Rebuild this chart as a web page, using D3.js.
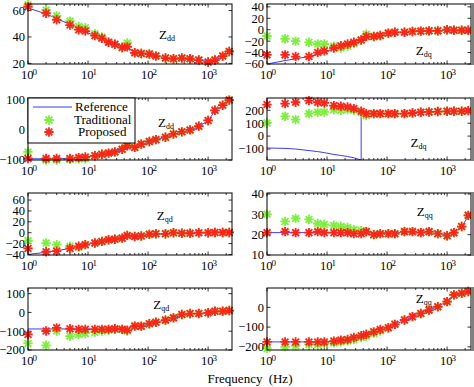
<!DOCTYPE html>
<html>
<head>
<meta charset="utf-8">
<script src="https://cdn.jsdelivr.net/npm/d3@7"></script>
<style>
    body { margin: 0; background: #fff; }
    svg { display: block; }
    svg text { font-family: "Liberation Serif", "DejaVu Serif", serif; }
</style>
</head>
<body>
<div id="chart"></div>
<script>
// frequency points (Hz) shared by all panels
var freqs = [1, 2, 3, 5, 7, 9, 13, 17, 22, 28, 37, 45, 60, 77, 105, 135, 195, 265, 365, 500, 700, 1000, 1300, 1750, 2250];
var xTicks = [1, 10, 100, 1000];

// Zdd magnitude
var ddMagRef  = [62, 57.5, 54, 49.5, 46, 44, 41, 39, 36.5, 34.5, 32.5, 31.5, 29, 27.5, 26.5, 25.5, 24.5, 23.5, 23.5, 23, 22.5, 21.5, 22.5, 25, 29];
var ddMagTrad = [64.5, 60.5, 56, 52, 48, 47, 42.5, 40, 36, 34.5, 32, 35.5, 28, 27.5, 27, 25.5, 24, 23.5, 24, 23.5, 22.5, 21, 22.5, 25.5, 29];
var ddMagProp = [63, 58, 53, 49, 45.5, 44.5, 41, 39, 36, 34.5, 32, 32.5, 28, 27.5, 27, 25.5, 24, 23.5, 24, 23.5, 22.5, 21, 22.5, 25.5, 29];

// Zdq magnitude
var dqMagRef  = [-60, -54, -51, -47, -43, -39, -33, -29, -25, -21, -16, -13, -11, -9, -6, -4.5, -4, -3, -2.5, -2, -1.5, -1, -1, -1, -1];
var dqMagTrad = [-11, -16, -20, -22, -25, -25, -29, -32, -29, -24, -18, -8, -12, -10, -6, -4.5, -4.5, -3, -2.5, -2, -2, 0, -1, -1, -1];
var dqMagProp = [-44, -44, -47, -47, -40, -37, -32, -28, -25, -22, -18, -12, -12, -10, -6, -4.5, -4.5, -3, -2.5, -2, -2, 0, -1, -1, -1];

// Zdd phase
var ddPhRef  = [-96, -96, -96, -95, -93, -91, -87, -82, -78, -73, -65, -57, -55, -48, -39, -32, -24, -14, -7, 0, 12, 31, 64, 82, 100];
var ddPhTrad = [-73, -100, -100, -98, -97, -96, -86, -81, -77, -73, -64, -49, -58, -47, -38, -32, -24, -13, -6, 0.5, 13, 32, 66, 83, 100];
var ddPhProp = [-95, -95, -95, -95, -92, -90, -86, -81, -77, -73, -64, -53, -58, -47, -38, -32, -24, -13, -6, 0.5, 13, 32, 66, 83, 100];

// Zdq phase (reference wraps from -180 to 180 near 37 Hz)
var dqPhRefFreq = [1, 2, 3, 5, 7, 9, 13, 17, 22, 28, 37, 37, 45, 60, 77, 105, 135, 195, 265, 365, 500, 700, 1000, 1300, 1750, 2250];
var dqPhRef  = [-92, -95, -100, -112, -120, -128, -142, -150, -158, -168, -185, 185, 172, 174, 174, 174, 174, 174, 179, 185, 187, 190, 192, 192, 192, 197];
var dqPhTrad = [102, 153, 128, 174, 185, 187, 205, 200, 205, 200, 185, 159, 174, 174, 174, 174, 174, 179, 185, 187, 190, 192, 192, 192, 197];
var dqPhProp = [244, 252, 262, 275, 262, 257, 236, 231, 226, 213, 192, 174, 174, 174, 174, 174, 174, 179, 185, 187, 190, 192, 192, 192, 197];

// Zqd magnitude
var qdMagRef  = [-40, -36, -33, -29, -25, -22, -19, -16, -13, -12, -10, -6, -7, -6, -3, -2, -2, -0.5, -1, -1, 0, 0, 0.5, 0.5, 0.5];
var qdMagTrad = [-15, -19, -22, -25, -27, -22, -19, -16, -13, -12, -10, -5, -7, -6, -3, -2, -2, 0, -1, -1, 0, 0, 0.5, 0.5, 0.5];
var qdMagProp = [-29, -35, -34, -29, -25, -22, -19, -16, -13, -12, -10, -5, -7, -6, -3, -2, -2, 0, -1, -1, 0, 0, 0.5, 0.5, 0.5];

// Zqq magnitude
var qqMagRef  = [21, 21, 21, 21, 21, 21, 21, 21, 21, 21, 21, 21, 21, 21, 21, 21, 21, 21, 21, 21, 20.5, 20, 21, 24, 29];
var qqMagTrad = [30, 26.5, 28, 27.5, 25.5, 25, 24.5, 24, 23.5, 22.5, 22, 21.5, 20, 20.5, 20.5, 20.5, 21.5, 21.5, 21, 21.5, 20.5, 19.5, 21, 24, 29.5];
var qqMagProp = [21, 21.5, 21, 21, 21.5, 21, 21, 21, 21, 20.5, 20.5, 21.5, 20, 20.5, 20.5, 20.5, 21.5, 21.5, 21, 21.5, 20.5, 19.5, 21, 24, 29.5];

// Zqd phase
var qdPhRef  = [-88, -88, -88, -88, -88, -88, -88, -88, -88, -88, -90, -93, -75, -72, -61, -52, -41, -29, -14, -7, -5, -2, 4, 7, 10];
var qdPhTrad = [-165, -175, -99, -126, -117, -112, -105, -99, -94, -90, -90, -99, -73, -73, -60, -52, -41, -29, -11, -6, -6, -2, 6, 6, 10];
var qdPhProp = [-117, -99, -82, -87, -90, -90, -90, -90, -90, -87, -90, -94, -73, -73, -60, -52, -41, -29, -11, -6, -6, -2, 6, 6, 10];

// Zqq phase
var qqPhRef  = [-175, -175, -175, -175, -175, -175, -172, -168, -162, -154, -145, -136, -125, -114, -102, -87, -66, -48, -31, -14, 4, 30, 60, 72, 80];
var qqPhTrad = [-208, -200, -195, -188, -188, -183, -180, -175, -170, -163, -153, -146, -132, -120, -103, -86, -64, -47, -31, -14, 3, 29, 63, 71, 80];
var qqPhProp = [-175, -175, -175, -175, -175, -175, -171, -166, -163, -153, -144, -136, -124, -112, -103, -86, -64, -47, -31, -14, 3, 29, 63, 71, 80];

var legendNames = ["Reference", "Traditional", "Proposed"];

(function () {
    var width = 474,
        height = 387;

    var blue = "#3b3bf5",
        green = "#7cf03a",
        red = "#ff2418";
    var serif = "'Liberation Serif', 'DejaVu Serif', serif";

    var cols = [[28, 232], [267, 471]];
    var rows = [[4, 64], [98, 160], [193, 255], [288, 350]];

    var panels = [
        { r: 0, c: 0, sub: "dd", dom: [19.5, 65], ticks: [20, 40, 60], refF: freqs, ref: ddMagRef, trad: ddMagTrad, prop: ddMagProp, lab: [0.642, 0.585] },
        { r: 0, c: 1, sub: "dq", dom: [-60, 45], ticks: [-60, -40, -20, 0, 20, 40], refF: freqs, ref: dqMagRef, trad: dqMagTrad, prop: dqMagProp, lab: [0.729, 0.85] },
        { r: 1, c: 0, sub: "dd", dom: [-100, 107], ticks: [-100, 0, 100], refF: freqs, ref: ddPhRef, trad: ddPhTrad, prop: ddPhProp, lab: [0.637, 0.463] },
        { r: 1, c: 1, sub: "dq", dom: [-185, 295], ticks: [-100, 0, 100, 200], refF: dqPhRefFreq, ref: dqPhRef, trad: dqPhTrad, prop: dqPhProp, lab: [0.704, 0.785] },
        { r: 2, c: 0, sub: "qd", dom: [-41, 73], ticks: [-40, -20, 0, 20, 40, 60], refF: freqs, ref: qdMagRef, trad: qdMagTrad, prop: qdMagProp, lab: [0.631, 0.435] },
        { r: 2, c: 1, sub: "qq", dom: [10, 40.5], ticks: [10, 20, 30, 40], refF: freqs, ref: qqMagRef, trad: qqMagTrad, prop: qqMagProp, lab: [0.734, 0.366] },
        { r: 3, c: 0, sub: "qd", dom: [-200, 130], ticks: [-200, -100, 0, 100], refF: freqs, ref: qdPhRef, trad: qdPhTrad, prop: qdPhProp, lab: [0.614, 0.344] },
        { r: 3, c: 1, sub: "qq", dom: [-216, 98], ticks: [-200, -100, 0], refF: freqs, ref: qqPhRef, trad: qqPhTrad, prop: qqPhProp, lab: [0.729, 0.237] }
    ];

    var svg = d3.select("#chart").append("svg")
        .attr("width", width)
        .attr("height", height);

    svg.append("rect").attr("width", width).attr("height", height).attr("fill", "#fff");

    // matlab style '*' marker
    function star(g, cx, cy, s, color) {
        var k = s * 0.72;
        g.append("path")
            .attr("d", "M" + (cx - s) + "," + cy + "H" + (cx + s) +
                "M" + cx + "," + (cy - s) + "V" + (cy + s) +
                "M" + (cx - k) + "," + (cy - k) + "L" + (cx + k) + "," + (cy + k) +
                "M" + (cx - k) + "," + (cy + k) + "L" + (cx + k) + "," + (cy - k))
            .attr("stroke", color)
            .attr("stroke-width", 1.8)
            .attr("fill", "none");
    }

    var minor = [];
    [1, 10, 100, 1000].forEach(function (d) {
        for (var m = 2; m <= 9; m++) {
            if (d * m <= 2500) minor.push(d * m);
        }
    });

    panels.forEach(function (p, i) {
        var x0 = cols[p.c][0], x1 = cols[p.c][1];
        var y0 = rows[p.r][0], y1 = rows[p.r][1];

        var x = d3.scaleLog().domain([1, 2500]).range([x0, x1]);
        var y = d3.scaleLinear().domain(p.dom).range([y1, y0]);

        var g = svg.append("g").attr("class", "panel");

        g.append("clipPath").attr("id", "clip" + i)
            .append("rect")
            .attr("x", x0).attr("y", y0)
            .attr("width", x1 - x0).attr("height", y1 - y0);

        // ticks (inside, both sides)
        var tk = g.append("g").attr("stroke", "#000").attr("stroke-width", 0.8);
        xTicks.forEach(function (t) {
            tk.append("line").attr("x1", x(t)).attr("x2", x(t)).attr("y1", y1).attr("y2", y1 - 3.5);
            tk.append("line").attr("x1", x(t)).attr("x2", x(t)).attr("y1", y0).attr("y2", y0 + 3.5);
        });
        minor.forEach(function (t) {
            tk.append("line").attr("x1", x(t)).attr("x2", x(t)).attr("y1", y1).attr("y2", y1 - 2);
            tk.append("line").attr("x1", x(t)).attr("x2", x(t)).attr("y1", y0).attr("y2", y0 + 2);
        });
        p.ticks.forEach(function (t) {
            tk.append("line").attr("x1", x0).attr("x2", x0 + 3.5).attr("y1", y(t)).attr("y2", y(t));
            tk.append("line").attr("x1", x1).attr("x2", x1 - 3.5).attr("y1", y(t)).attr("y2", y(t));
        });

        // reference line
        var line = d3.line()
            .x(function (d) { return x(d[0]); })
            .y(function (d) { return y(d[1]); });

        g.append("path")
            .datum(p.refF.map(function (f, j) { return [f, p.ref[j]]; }))
            .attr("clip-path", "url(#clip" + i + ")")
            .attr("d", line)
            .attr("fill", "none")
            .attr("stroke", blue)
            .attr("stroke-width", 1);

        freqs.forEach(function (f, j) {
            star(g, x(f), y(p.trad[j]), 4.7, green);
        });
        freqs.forEach(function (f, j) {
            star(g, x(f), y(p.prop[j]), 4.7, red);
        });

        // axes box
        g.append("rect")
            .attr("x", x0).attr("y", y0)
            .attr("width", x1 - x0).attr("height", y1 - y0)
            .attr("fill", "none")
            .attr("stroke", "#000")
            .attr("stroke-width", 1);

        if (p.c === 1) {
            g.append("rect")
                .attr("x", x1).attr("y", y0 - 1)
                .attr("width", 3).attr("height", y1 - y0 + 2)
                .attr("fill", "#808080");
        }

        // y tick labels
        p.ticks.forEach(function (t) {
            g.append("text")
                .attr("x", x0 - 3)
                .attr("y", y(t))
                .attr("dy", "0.35em")
                .attr("text-anchor", "end")
                .attr("font-family", serif)
                .style("font-size", "12.5px")
                .text(t < 0 ? "\u2212" + Math.abs(t) : t);
        });

        // x tick labels 10^k
        xTicks.forEach(function (t, k) {
            var tx = g.append("text")
                .attr("x", x(t) - 7)
                .attr("y", y1 + 15)
                .attr("font-family", serif)
                .style("font-size", "12.5px");
            tx.append("tspan").text("10");
            tx.append("tspan")
                .attr("dx", -1)
                .attr("dy", -4)
                .style("font-size", "9px")
                .text(k);
        });

        // panel label Z with subscript
        var lt = g.append("text")
            .attr("x", x0 + p.lab[0] * (x1 - x0))
            .attr("y", y0 + p.lab[1] * (y1 - y0))
            .attr("font-family", serif)
            .style("font-size", "13px");
        lt.append("tspan").text("Z");
        lt.append("tspan").attr("dy", 2).style("font-size", "8px").text(p.sub);
    });

    // legend in the Zdd phase panel
    var lx = cols[0][0], ly = rows[1][0];
    var leg = svg.append("g");
    leg.append("rect")
        .attr("x", lx).attr("y", ly)
        .attr("width", 107).attr("height", 45)
        .attr("fill", "#fff")
        .attr("stroke", "#000")
        .attr("stroke-width", 1);
    leg.append("line")
        .attr("x1", lx + 5).attr("x2", lx + 44)
        .attr("y1", ly + 9).attr("y2", ly + 9)
        .attr("stroke", blue).attr("stroke-width", 1);
    star(leg, lx + 21, ly + 22, 4.7, green);
    star(leg, lx + 21, ly + 34, 4.7, red);
    var ys = [13, 26, 38], xs = [47, 46, 50];
    legendNames.forEach(function (n, j) {
        leg.append("text")
            .attr("x", lx + xs[j])
            .attr("y", ly + ys[j])
            .attr("font-family", serif)
            .style("font-size", "13px")
            .text(n);
    });

    svg.append("text")
        .attr("x", 250)
        .attr("y", 383)
        .attr("text-anchor", "middle")
        .attr("font-family", serif)
        .style("font-size", "13px")
        .style("word-spacing", "3px")
        .text("Frequency (Hz)");
})();
</script>
</body>
</html>
